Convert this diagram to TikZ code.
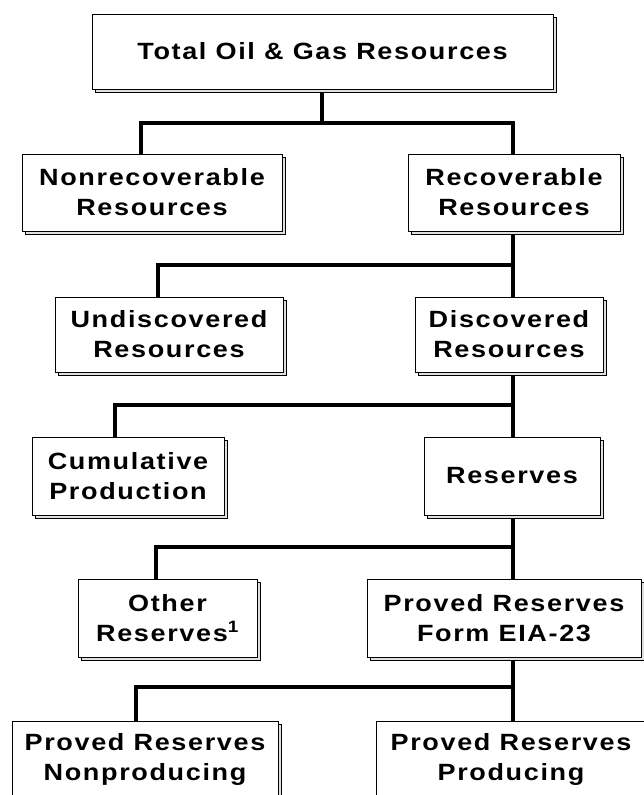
\documentclass[tikz,border=0pt]{standalone}
\usepackage{fontspec}
\newfontfamily\boxfont{Liberation Sans Bold}[LetterSpace=7,FakeStretch=1.15]
\usetikzlibrary{shadows}
\begin{document}
\begin{tikzpicture}[x=1pt,y=-1pt,
  box/.style={draw=black, line width=0.8pt, fill=white, align=center,
    inner sep=0pt, minimum height=#1,
    font=\boxfont\fontsize{23.5}{30}\selectfont,
    copy shadow={shadow xshift=3pt, shadow yshift=-3pt, fill=gray!25, draw=black, line width=0.5pt}},
  box/.default=77pt,
  conn/.style={line width=4pt, line join=miter}]
\useasboundingbox (0,0) rectangle (643,795);
\fill[white] (0,0) rectangle (643,795);

\node[box=75pt, minimum width=461pt] (top) at (322.5,51.5) {Total Oil \& Gas Resources};
\node[box, minimum width=260pt] (nonrec) at (152,192.5) {Nonrecoverable\\Resources};
\node[box, minimum width=212pt] (rec) at (514,192.5) {Recoverable\\Resources};
\node[box=75pt, minimum width=228pt] (undisc) at (169,334.5) {Undiscovered\\Resources};
\node[box=75pt, minimum width=188pt] (disc) at (509,334.5) {Discovered\\Resources};
\node[box=78pt, minimum width=192pt] (cumul) at (128,476) {Cumulative\\Production};
\node[box=78pt, minimum width=176pt] (res) at (512,476) {Reserves};
\node[box=78pt, minimum width=179pt] (other) at (167.5,618) {Other\\Reserves\textsuperscript{1}};
\node[box=78pt, minimum width=274pt] (pform) at (504,618) {Proved Reserves\\Form EIA-23};
\node[box, minimum width=266pt] (nonprod) at (145,759.5) {Proved Reserves\\Nonproducing};
\node[box, minimum width=270pt] (prod) at (511,759.5) {Proved Reserves\\Producing};

% junction coordinates
\coordinate (j1) at (322,123);
\coordinate (l1) at (141,123);
\coordinate (r1) at (513,123);
\coordinate (l2) at (158,265);
\coordinate (r2) at (513,265);
\coordinate (l3) at (115,405);
\coordinate (r3) at (513,405);
\coordinate (l4) at (156,547);
\coordinate (r4) at (513,547);
\coordinate (l5) at (136,687);
\coordinate (r5) at (513,687);

% level 1
\draw[conn] ([yshift=-3pt]top.south -| j1) -- (j1);
\draw[conn] (l1 |- nonrec.north) -- (l1) -- (r1) -- (r1 |- rec.north);
% level 2
\draw[conn] ([yshift=-3pt]rec.south -| r2) -- (r2 |- disc.north);
\draw[conn] (l2 |- undisc.north) -- (l2) -- (r2);
% level 3
\draw[conn] ([yshift=-3pt]disc.south -| r3) -- (r3 |- res.north);
\draw[conn] (l3 |- cumul.north) -- (l3) -- (r3);
% level 4
\draw[conn] ([yshift=-3pt]res.south -| r4) -- (r4 |- pform.north);
\draw[conn] (l4 |- other.north) -- (l4) -- (r4);
% level 5
\draw[conn] ([yshift=-3pt]pform.south -| r5) -- (r5 |- prod.north);
\draw[conn] (l5 |- nonprod.north) -- (l5) -- (r5);
\end{tikzpicture}
\end{document}
